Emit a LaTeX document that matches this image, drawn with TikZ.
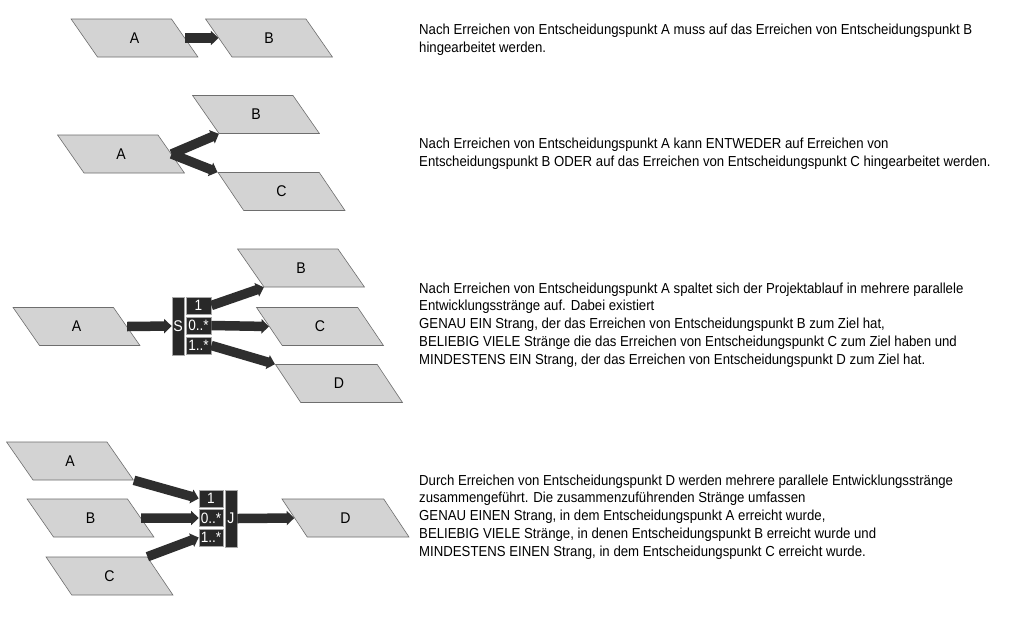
\documentclass[tikz,border=0pt]{standalone}
\usepackage{fontspec}
\setmainfont{Liberation Sans}[FakeStretch=0.91]
\usetikzlibrary{shapes.geometric,arrows.meta}
\definecolor{parafill}{HTML}{D3D3D3}
\definecolor{paradraw}{HTML}{6E6E6E}
\definecolor{arrowc}{HTML}{2E2E2E}
\definecolor{cellfill}{HTML}{282828}
\definecolor{celldraw}{HTML}{A8A8A8}
\begin{document}
\begin{tikzpicture}[x=1pt,y=-1pt,
  para/.style={trapezium, trapezium left angle=107.5, trapezium right angle=72.5,
    trapezium stretches=true, minimum width=127pt, minimum height=38pt,
    inner sep=0pt, fill=parafill, draw=paradraw, line width=0.6pt,
    font=\fontsize{15.5}{17}\selectfont},
  arr/.style={line width=9.5pt, draw=arrowc, -{Triangle[width=14pt,length=7.5pt]}},
  bar/.style={rectangle, fill=cellfill, draw=celldraw, line width=0.7pt,
    minimum width=12pt, inner sep=0pt, text=white, font=\fontsize{15.5}{16}\selectfont},
  cell/.style={rectangle, fill=cellfill, draw=celldraw, line width=0.7pt,
    minimum width=25pt, minimum height=17pt, inner sep=0pt, text=white,
    font=\fontsize{15}{15}\selectfont},
  desc/.style={anchor=base west, align=left, inner sep=0pt,
    font=\fontsize{14.5}{17.7}\selectfont}]
\useasboundingbox[fill=white] (0,0) rectangle (1024,633);

% Row 1
\node[para] (A1) at (134.5,38) {A};
\node[para] (B1) at (269,38) {B};
\draw[arr] (A1.east) -- (B1.west);
\node[desc] (T1) at (419,52.5) {Nach Erreichen von Entscheidungspunkt A muss auf das Erreichen von Entscheidungspunkt B\\hingearbeitet werden.};

% Row 2
\node[para] (A2) at (121,154) {A};
\node[para] (B2) at (256,114.5) {B};
\node[para] (C2) at (281.5,191.5) {C};
\draw[arr] (A2.east) -- (B2.bottom left corner);
\draw[arr] (A2.east) -- (C2.top left corner);
\node[desc] (T2) at (419,166.5) {Nach Erreichen von Entscheidungspunkt A kann ENTWEDER auf Erreichen von\\Entscheidungspunkt B ODER auf das Erreichen von Entscheidungspunkt C hingearbeitet werden.};

% Row 3
\node[para] (A3) at (76.5,326.5) {A};
\node[para] (B3) at (301,268) {B};
\node[para] (C3) at (320,326.5) {C};
\node[para] (D3) at (339,383.5) {D};
\node[bar, minimum height=58pt] (S) at (178,326) {S};
\node[cell] (S1) at (198.5,305.5) {1};
\node[cell] (S2) at (198.5,325.5) {0..*};
\node[cell] (S3) at (198.5,345.5) {1..*};
\draw[arr] (A3.east) -- (S.west);
\draw[arr] (S1.east) -- (B3.bottom left corner);
\draw[arr] (S2.east) -- (C3.west);
\draw[arr] (S3.east) -- (D3.top left corner);
\node[desc] (T3) at (419,364) {Nach Erreichen von Entscheidungspunkt A spaltet sich der Projektablauf in mehrere parallele\\Entwicklungsstränge auf. Dabei existiert\\GENAU EIN Strang, der das Erreichen von Entscheidungspunkt B zum Ziel hat,\\BELIEBIG VIELE Stränge die das Erreichen von Entscheidungspunkt C zum Ziel haben und\\MINDESTENS EIN Strang, der das Erreichen von Entscheidungspunkt D zum Ziel hat.};

% Row 4
\node[para] (A4) at (70,461) {A};
\node[para] (B4) at (90.5,518) {B};
\node[para] (C4) at (109.5,576) {C};
\node[para] (D4) at (345.5,518) {D};
\node[cell, minimum width=24pt] (J1) at (211,498.5) {1};
\node[cell, minimum width=24pt] (J2) at (211,518) {0..*};
\node[cell, minimum width=24pt] (J3) at (211,537.5) {1..*};
\node[bar, minimum height=57pt] (J) at (231,518.5) {J};
\draw[arr] (A4.bottom right corner) -- (J1.west);
\draw[arr] (B4.east) -- (J2.west);
\draw[arr] (C4.top right corner) -- (J3.west);
\draw[arr] (J.east) -- (D4.west);
\node[desc] (T4) at (419,556) {Durch Erreichen von Entscheidungspunkt D werden mehrere parallele Entwicklungsstränge\\zusammengeführt. Die zusammenzuführenden Stränge umfassen\\GENAU EINEN Strang, in dem Entscheidungspunkt A erreicht wurde,\\BELIEBIG VIELE Stränge, in denen Entscheidungspunkt B erreicht wurde und\\MINDESTENS EINEN Strang, in dem Entscheidungspunkt C erreicht wurde.};
\end{tikzpicture}
\end{document}
